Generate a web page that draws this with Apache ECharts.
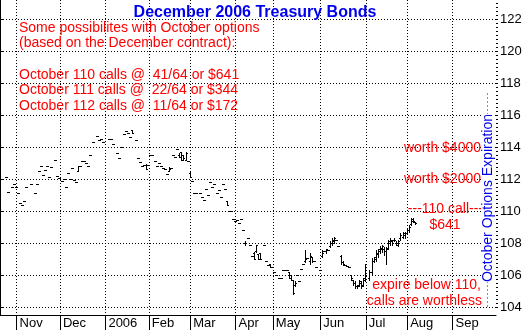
<!DOCTYPE html>
<html>
<head>
<meta charset="utf-8">
<script src="https://cdn.jsdelivr.net/npm/echarts@6/dist/echarts.min.js"></script>
<style>html,body{margin:0;padding:0;background:#fff}#c{width:527px;height:330px}</style>
</head>
<body>
<div id="c"></div>
<script>
// ---- data (trading-day index, then prices) ----
// month start positions on the trading-day axis and their labels
const monthStartDay = [8, 29, 51, 72, 92, 114, 132, 155, 177, 197, 219];
const monthLabels = ['Nov', 'Dec', '2006', 'Feb', 'Mar', 'Apr', 'May', 'Jun', 'Jul', 'Aug', 'Sep'];
const priceTicks = [104, 106, 108, 110, 112, 114, 116, 118, 120, 122];
const expirationDay = 236;
// bars: [day, price] for flat days, or [day, open, high, low, close]
const bars = [
[3,112.14],[4,111.2],[6,111.5],[7,111.7],[8,111.5],[9,111.15],[10,110.5],[11,110.4],[12,110.6],[13,111.5],
[15,111.7],[17,111.1],[18,111.7],[19,112.5],[20,112.8],[21,112.25],[22,112.56],[23,112.8],[24,112.1],[25,112.75],
[27,113.2],[28,112.2],[29,112.05],[30,111.9],[31,112.0],[32,111.5],[33,112.35],[34,112.0],[35,112.67],[36,111.94],
[37,111.8],[38,112.5,112.8,112.5,112.8],[39,112.8],[40,113.1],[41,113.15],[42,113.0],[43,112.8],[44,113.5],[45,114.3],
[47,114.7],[48,114.44],[49,114.5],[50,114.3],[53,114.5],[54,114.5],[55,114.2],[57,113.6],[58,113.3],[59,114.0],
[60,114.8],[61,115.0],[62,114.9],[63,114.6],[64,115.05,115.05,114.85,114.85],[66,114.44],[67,113.3],[68,113.05],
[69,112.8],[70,112.9],[71,112.9,112.95,112.65,112.65],[72,112.9],[73,113.5],[74,113.5],[75,113.1],[76,112.8],
[77,113.0],[78,112.8],[79,112.7],[80,112.6],[81,112.3],[82,112.5,112.75,112.5,112.6],[83,112.7],[84,113.5],
[85,113.4],[86,113.85],[87,113.5,113.6,113.4,113.4],[88,113.7,113.7,113.2,113.2],[89,113.5,113.5,113.2,113.3],
[90,113.2,113.7,113.2,113.6],[91,113.15],[92,112.4,112.45,112.1,112.1],[93,111.9],[94,111.15],[95,111.15],
[97,111.1],[98,110.85],[99,110.7],[100,111.4],[101,111.0],[102,111.8],[103,111.5],[104,111.7],[105,111.1],
[106,111.3],[107,110.9],[108,111.7],[109,111.35],[110,110.6,110.6,110.4,110.4],[111,110.0],[112,110.0],
[113,109.5],[114,109.35],[115,109.45],[116,109.23],[117,109.5],[118,108.8],[119,108.0,108.1,107.9,108.0],
[120,108.3],[121,107.9],[122,107.2],[123,107.4,107.45,107.0,107.0],[124,107.5,107.9,107.45,107.9],
[125,107.3,107.3,107.0,107.0],[126,107.4,107.4,107.0,107.0],[128,107.9],[129,106.9],[130,106.6],
[131,106.7,106.7,106.5,106.5],[132,106.5],[133,106.2],[134,106.0],[135,105.8],[136,105.8],[137,106.3],
[138,106.3],[139,106.3],[140,106.2,106.2,105.8,105.8],[141,106.0,106.0,105.7,105.7],[142,105.7,105.7,104.8,104.9],
[143,105.4,105.6,105.3,105.5],[144,106.0],[145,105.6],[146,106.4],[147,106.7],[148,106.9,107.55,106.8,107.0],
[149,107.05],[150,106.9,107.35,106.7,107.2],[151,107.1,107.15,106.8,106.9],[152,106.9],[153,106.5],[155,106.3],
[156,107.2,107.55,107.1,107.4],[157,107.5],[158,107.5,107.65,107.35,107.6],[159,107.55],
[160,107.8,108.1,107.75,108.0],[161,108.0,108.3,107.9,108.2],[162,108.1,108.4,108.0,108.3],[163,108.2],
[164,107.8],[165,107.2,107.25,106.7,106.8],[166,106.8,106.9,106.6,106.7],[167,106.6],[168,106.55],[169,106.5],
[170,106.0,106.0,105.7,105.8],[171,105.7,105.7,105.4,105.5],[172,105.5,105.6,105.2,105.3],[173,105.3,105.4,105.2,105.3],
[174,105.4,105.7,105.3,105.6],[175,105.5,105.6,105.2,105.3],[176,105.4,105.8,105.3,105.7],[177,105.8,106.7,105.6,106.5],
[179,105.8,106.3,105.7,106.2],[180,106.2,107.05,106.0,106.9],[181,106.9,107.15,106.8,107.1],[182,107.0,107.55,106.9,107.4],
[183,107.3,107.65,107.15,107.6],[184,107.5,107.8,107.35,107.7],[185,107.6,107.9,107.45,107.8],[186,107.6,107.75,107.25,107.5],
[187,107.5,107.75,106.7,107.6],[188,107.7,108.2,107.65,108.1],[189,108.0,108.3,107.9,108.2],[190,108.1,108.2,107.9,108.0],
[191,108.2,108.3,108.1,108.2],[192,108.0,108.1,107.9,108.0],[193,107.9,108.2,107.8,108.1],[194,108.3,108.6,108.2,108.5],
[195,108.4,108.7,108.3,108.6],[196,108.5,108.7,108.3,108.6],[197,108.6,108.9,108.6,108.8],[198,108.8,109.1,108.7,109.0],
[199,109.2,109.55,109.1,109.5],[200,109.4,109.55,109.3,109.4],[201,109.3,109.3,109.2,109.25]
];
const titleText = 'December 2006 Treasury Bonds';
const noteLines = ['Some possibilites with October options', '(based on the December contract):', '',
  'October 110 calls @  41/64 or $641', 'October 111 calls @  22/64 or $344', 'October 112 calls @  11/64 or $172'];

// ---- build ----
const FONT = '"Liberation Sans", Arial, sans-serif';
const ohlc = bars.map(r => r.length === 2 ? [r[0], r[1], r[1], r[1], r[1]] : r);
const minorTicks = [];
for (let v = 104; v <= 123; v += 0.25) minorTicks.push(v);

function renderItem(params, api) {
  const d = api.value(0);
  const pO = api.coord([d, api.value(1)]);
  const pH = api.coord([d, api.value(2)]);
  const pL = api.coord([d, api.value(3)]);
  const pC = api.coord([d, api.value(4)]);
  const x = Math.floor(pH[0]);
  const yH = Math.round(pH[1]), yL = Math.round(pL[1]);
  const st = { fill: '#000' };
  return { type: 'group', children: [
    { type: 'rect', shape: { x: x, y: yH, width: 1, height: Math.max(1, yL - yH + 1) }, style: st },
    { type: 'rect', shape: { x: x - 1, y: Math.round(pO[1]), width: 1, height: 1 }, style: st },
    { type: 'rect', shape: { x: x + 1, y: Math.round(pC[1]), width: 1, height: 1 }, style: st }
  ]};
}

const chart = echarts.init(document.getElementById('c'), null, { renderer: 'canvas' });
const red = '#ff0000', blue = '#0000ee';
const graphics = [];
noteLines.forEach((t, i) => {
  if (!t) return;
  graphics.push({ type: 'text', left: 19, top: 21 + i * 15.6, z: 100,
    style: { text: t, fill: red, font: '14px ' + FONT } });
});
function rtext(t, right, cy) {
  graphics.push({ type: 'text', x: right, y: cy, z: 100,
    style: { text: t, fill: red, font: '14px ' + FONT, textAlign: 'right', textVerticalAlign: 'middle' } });
}
rtext('worth $4000', 481, 148);
rtext('worth $2000', 481, 179);
rtext('---110 call---', 483, 209);
graphics.push({ type: 'text', x: 445, y: 225, z: 100,
  style: { text: '$641', fill: red, font: '14px ' + FONT, textAlign: 'center', textVerticalAlign: 'middle' } });
rtext('expire below 110,', 481, 285);
rtext('calls are worthless', 482, 301);

chart.setOption({
  animation: false,
  backgroundColor: '#fff',
  title: { text: titleText, left: 250, top: 0, textAlign: 'center',
    textStyle: { color: blue, fontSize: 16, fontWeight: 'bold', fontFamily: FONT } },
  grid: { left: 0, right: 31, top: 0, bottom: 15 },
  xAxis: {
    type: 'value', min: 0, max: 240,
    axisLine: { show: true, onZero: false, lineStyle: { color: '#000', width: 1 } },
    axisTick: { show: true, customValues: monthStartDay, length: 15, lineStyle: { color: '#000' } },
    axisLabel: { customValues: monthStartDay, color: '#000', fontSize: 13, fontFamily: FONT,
      align: 'left', margin: 2, padding: [0, 0, 0, 3],
      formatter: v => monthLabels[monthStartDay.indexOf(v)] },
    splitLine: { show: true, lineStyle: { color: '#000', type: [1, 2] } }
  },
  yAxis: [{
    type: 'value', position: 'right', min: 103.5, max: 123.1875,
    axisLine: { show: true, lineStyle: { color: '#000' } },
    axisTick: { show: true, customValues: priceTicks, length: 4, lineStyle: { color: '#000' } },
    axisLabel: { customValues: priceTicks, color: '#000', fontSize: 13, fontFamily: FONT, margin: 4 },
    splitLine: { show: true, lineStyle: { color: '#000', type: [1, 2] } }
  }, {
    type: 'value', position: 'right', min: 103.5, max: 123.1875,
    axisLine: { show: false },
    axisTick: { show: true, customValues: minorTicks, length: 2, lineStyle: { color: '#000' } },
    axisLabel: { show: false },
    splitLine: { show: false }
  }],
  graphic: graphics.concat([{
    type: 'text', x: 488, y: 198, rotation: Math.PI / 2, z: 100,
    style: { text: 'October Options Expiration', fill: blue, font: '14px ' + FONT,
      textAlign: 'center', textVerticalAlign: 'middle', backgroundColor: '#fff' }
  }]),
  series: [{
    type: 'custom', renderItem: renderItem, data: ohlc, clip: true,
    encode: { x: 0, y: [1, 2, 3, 4] },
    markLine: { silent: true, symbol: 'none', animation: false,
      lineStyle: { color: '#8080ff', type: [2, 2], width: 1 },
      label: { show: false },
      data: [[{ coord: [expirationDay, 104] }, { coord: [expirationDay, 117.5] }]] }
  }]
});
</script>
</body>
</html>
